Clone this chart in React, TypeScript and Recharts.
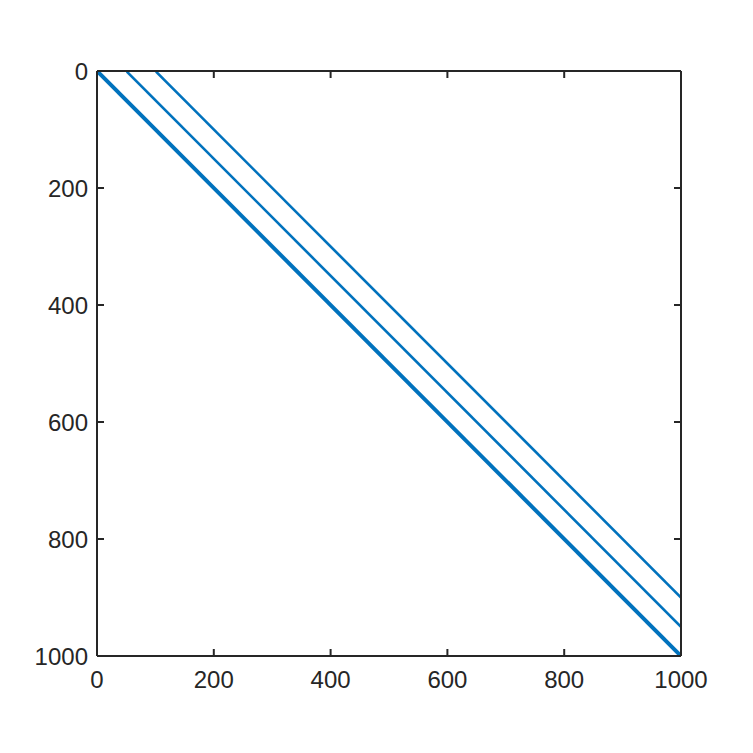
import React from 'react';
import { LineChart, Line, XAxis, YAxis } from 'recharts';

// spy() of a 1000x1000 sparse matrix: main band plus two upper diagonals
const mainDiag = [
  { col: 1, row: 1 },
  { col: 1000, row: 1000 },
];
const diag50 = [
  { col: 51, row: 1 },
  { col: 1000, row: 950 },
];
const diag100 = [
  { col: 101, row: 1 },
  { col: 1000, row: 900 },
];
const tickValues = [0, 200, 400, 600, 800, 1000];

const AXIS = '#262626';
const BLUE = '#0072BD';
const FONT = '"Liberation Sans", Arial, sans-serif';
const FS = 24;
const TICK_LEN = 7;
const TICK_W = 2;
const BOTTOM_GAP = 15;
const LEFT_GAP = 9;

// MATLAB-style ticks: drawn inward, label outside
const BottomTick = (props: any) => {
  const { x, y, payload } = props;
  const axisY = y - BOTTOM_GAP;
  return (
    <g>
      <line x1={x} x2={x} y1={axisY} y2={axisY - TICK_LEN} stroke={AXIS} strokeWidth={TICK_W} />
      <text x={x} y={y} dy={FS * 0.72} textAnchor="middle" fontSize={FS} fontFamily={FONT} fill={AXIS}>
        {payload.value}
      </text>
    </g>
  );
};

const LeftTick = (props: any) => {
  const { x, y, payload } = props;
  const axisX = x + LEFT_GAP;
  return (
    <g>
      <line x1={axisX} x2={axisX + TICK_LEN} y1={y} y2={y} stroke={AXIS} strokeWidth={TICK_W} />
      <text x={x} y={y} dy={FS * 0.36} textAnchor="end" fontSize={FS} fontFamily={FONT} fill={AXIS}>
        {payload.value}
      </text>
    </g>
  );
};

const TopTick = (props: any) => {
  const { x, y } = props;
  return <line x1={x} x2={x} y1={y} y2={y + TICK_LEN} stroke={AXIS} strokeWidth={TICK_W} />;
};

const RightTick = (props: any) => {
  const { x, y } = props;
  return <line x1={x} x2={x - TICK_LEN} y1={y} y2={y} stroke={AXIS} strokeWidth={TICK_W} />;
};

const App: React.FC = () => {
  const axisStyle = { stroke: AXIS, strokeWidth: 2 };

  return (
    <div style={{ width: 745, height: 745, background: '#fff' }}>
      <LineChart
        width={745}
        height={745}
        margin={{ top: 62, right: 71, left: 29, bottom: 57 }}
      >
        <XAxis
          xAxisId={0}
          dataKey="col"
          type="number"
          domain={[0, 1000]}
          ticks={tickValues}
          allowDataOverflow
          height={40}
          tickSize={0}
          tickMargin={BOTTOM_GAP}
          tick={<BottomTick />}
          tickLine={false}
          axisLine={axisStyle}
          interval={0}
        />
        <XAxis
          xAxisId="top"
          orientation="top"
          dataKey="col"
          type="number"
          domain={[0, 1000]}
          ticks={tickValues}
          allowDataOverflow
          height={1}
          tickSize={0}
          tickMargin={0}
          tick={<TopTick />}
          tickLine={false}
          axisLine={axisStyle}
          interval={0}
        />
        <YAxis
          yAxisId={0}
          type="number"
          domain={[0, 1000]}
          reversed
          ticks={tickValues}
          allowDataOverflow
          width={60}
          tickSize={0}
          tickMargin={LEFT_GAP}
          tick={<LeftTick />}
          tickLine={false}
          axisLine={axisStyle}
          interval={0}
        />
        <YAxis
          yAxisId="right"
          orientation="right"
          type="number"
          domain={[0, 1000]}
          reversed
          ticks={tickValues}
          allowDataOverflow
          width={1}
          tickSize={0}
          tickMargin={0}
          tick={<RightTick />}
          tickLine={false}
          axisLine={axisStyle}
          interval={0}
        />
        <Line
          data={mainDiag}
          dataKey="row"
          type="linear"
          stroke={BLUE}
          strokeWidth={4}
          dot={false}
          isAnimationActive={false}
        />
        <Line
          data={diag50}
          dataKey="row"
          type="linear"
          stroke={BLUE}
          strokeWidth={2.6}
          dot={false}
          isAnimationActive={false}
        />
        <Line
          data={diag100}
          dataKey="row"
          type="linear"
          stroke={BLUE}
          strokeWidth={2.6}
          dot={false}
          isAnimationActive={false}
        />
        {/* invisible series so the mirrored box axes are kept */}
        <Line
          xAxisId="top"
          yAxisId="right"
          data={mainDiag}
          dataKey="row"
          stroke="none"
          dot={false}
          activeDot={false}
          isAnimationActive={false}
        />
      </LineChart>
    </div>
  );
};

export default App;
